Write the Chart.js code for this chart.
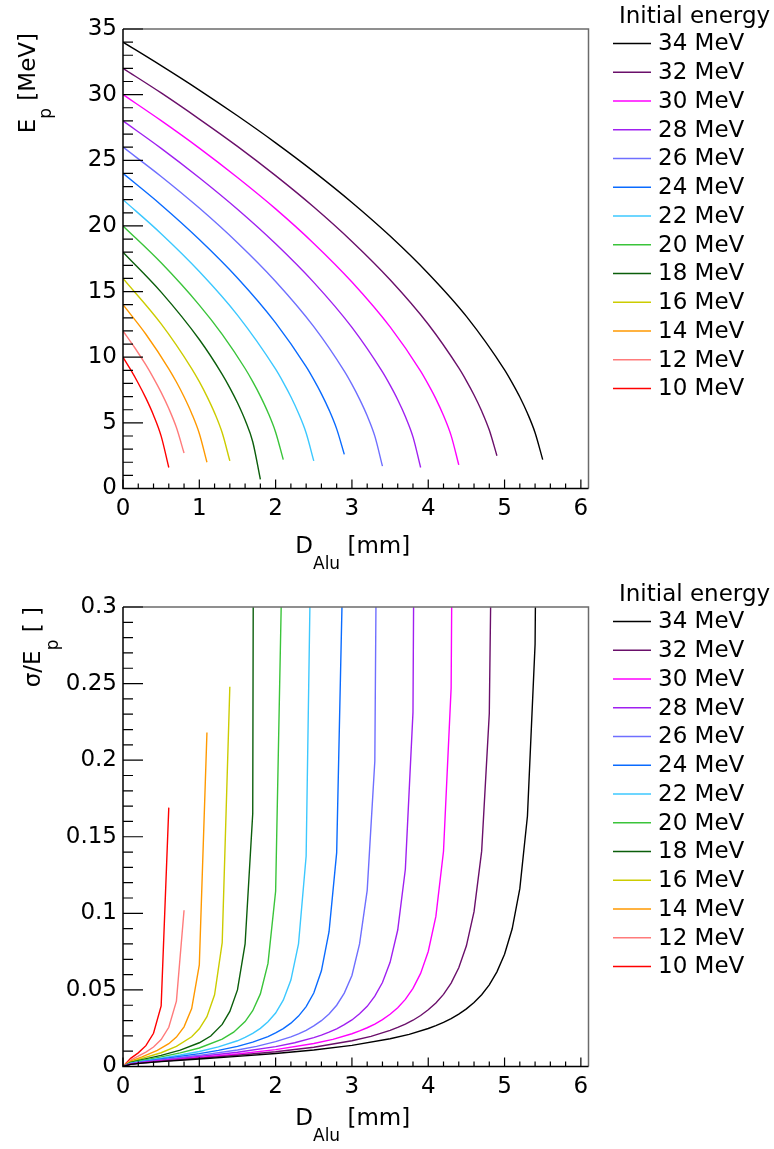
<!DOCTYPE html>
<html>
<head>
<meta charset="utf-8">
<script src="https://cdn.jsdelivr.net/npm/chart.js@4.4.0/dist/chart.umd.min.js"></script>
<style>
  html, body { margin: 0; padding: 0; background: #fff; overflow: hidden; }
  canvas { display: block; }
</style>
</head>
<body>
<canvas id="chartEnergia" width="774" height="578"></canvas>
<canvas id="chartSigma" width="774" height="578"></canvas>
<script>
// Etiquetas de la leyenda (energía inicial) y colores de cada curva
const energias = ['34 MeV', '32 MeV', '30 MeV', '28 MeV', '26 MeV', '24 MeV', '22 MeV', '20 MeV', '18 MeV', '16 MeV', '14 MeV', '12 MeV', '10 MeV'];
const colores = ['#000000', '#6a0f6a', '#ff00ff', '#a020f0', '#6f6fff', '#0a6bff', '#3cc8ff', '#3ac43a', '#0b5e0b', '#cccc00', '#ff9900', '#ff7b7b', '#ff0000'];

// Marcas de los ejes
const ticksDist = [0, 1, 2, 3, 4, 5, 6];
const ticksEp = [0, 5, 10, 15, 20, 25, 30, 35];
const ticksSigma = [0, 0.05, 0.1, 0.15, 0.2, 0.25, 0.3];

// Gráfico superior: E_p [MeV] frente a D_Alu [mm]
const dE34 = [0, 0.5, 1, 1.5, 2, 2.5, 3, 3.5, 4, 4.5, 5.0, 5.1, 5.2, 5.3, 5.4, 5.5];
const ep34 = [34, 32.21, 30.35, 28.39, 26.33, 24.14, 21.79, 19.23, 16.38, 13.11, 9.04, 8.05, 6.97, 5.73, 4.25, 2.2];
const dE32 = [0, 0.5, 1, 1.5, 2, 2.5, 3, 3.5, 4, 4.4, 4.5, 4.6, 4.7, 4.8, 4.9];
const ep32 = [32, 30.13, 28.14, 26.06, 23.83, 21.44, 18.82, 15.9, 12.51, 9.18, 8.2, 7.12, 5.9, 4.45, 2.5];
const dE30 = [0, 0.5, 1, 1.5, 2, 2.5, 3, 3.5, 3.9, 4.0, 4.1, 4.2, 4.3, 4.4];
const ep30 = [30, 28.02, 25.93, 23.69, 21.3, 18.67, 15.73, 12.31, 8.94, 7.93, 6.83, 5.56, 4.03, 1.8];
const dE28 = [0, 0.5, 1, 1.5, 2, 2.5, 3, 3.4, 3.5, 3.6, 3.7, 3.8, 3.9];
const ep28 = [28, 25.91, 23.67, 21.27, 18.64, 15.7, 12.27, 8.88, 7.87, 6.76, 5.48, 3.93, 1.6];
const dE26 = [0, 0.5, 1, 1.5, 2, 2.5, 2.9, 3.0, 3.1, 3.2, 3.3, 3.4];
const ep26 = [26, 23.77, 21.36, 18.72, 15.77, 12.33, 8.94, 7.93, 6.81, 5.54, 3.99, 1.7];
const dE24 = [0, 0.5, 1, 1.5, 2, 2.4, 2.5, 2.6, 2.7, 2.8, 2.9];
const ep24 = [24, 21.6, 18.97, 16.04, 12.62, 9.28, 8.29, 7.21, 5.99, 4.54, 2.6];
const dE22 = [0, 0.5, 1, 1.5, 2, 2.1, 2.2, 2.3, 2.4, 2.5];
const ep22 = [22, 19.41, 16.53, 13.21, 9.09, 8.09, 6.99, 5.73, 4.23, 2.1];
const dE20 = [0, 0.5, 1, 1.3, 1.6, 1.7, 1.8, 1.9, 2.0, 2.1];
const ep20 = [20, 17.19, 13.97, 11.74, 9.14, 8.14, 7.04, 5.79, 4.29, 2.2];
const dE18 = [0, 0.5, 1, 1.3, 1.4, 1.5, 1.6, 1.7, 1.8];
const ep18 = [18, 14.96, 11.35, 8.7, 7.67, 6.53, 5.21, 3.56, 0.7];
const dE16 = [0, 0.5, 0.9, 1.0, 1.1, 1.2, 1.3, 1.4];
const ep16 = [16, 12.54, 9.14, 8.14, 7.02, 5.76, 4.24, 2.1];
const dE14 = [0, 0.3, 0.6, 0.7, 0.8, 0.9, 1.0, 1.1];
const ep14 = [14, 11.75, 9.12, 8.11, 6.99, 5.72, 4.19, 2.0];
const dE12 = [0, 0.15, 0.3, 0.4, 0.5, 0.6, 0.7, 0.8];
const ep12 = [12, 10.76, 9.41, 8.41, 7.32, 6.09, 4.64, 2.7];
const dE10 = [0, 0.1, 0.2, 0.3, 0.4, 0.5, 0.6];
const ep10 = [10, 9.05, 8.02, 6.88, 5.58, 3.99, 1.6];

// Gráfico inferior: sigma/E_p frente a D_Alu [mm]
const dS34 = [0, 0.1, 0.25, 0.5, 1, 1.5, 2, 2.5, 3, 3.5, 3.75, 4, 4.1, 4.2, 4.3, 4.4, 4.5, 4.6, 4.7, 4.8, 4.9, 5.0, 5.1, 5.2, 5.3, 5.4, 5.5];
const sg34 = [0, 0.0014, 0.0022, 0.0032, 0.0049, 0.0066, 0.0085, 0.0108, 0.0138, 0.0181, 0.021, 0.0248, 0.0267, 0.0288, 0.0313, 0.0342, 0.0376, 0.0418, 0.0469, 0.0533, 0.0618, 0.0733, 0.0899, 0.1161, 0.1635, 0.2757, 0.875];
const dS32 = [0, 0.1, 0.25, 0.5, 1, 1.5, 2, 2.5, 3, 3.25, 3.5, 3.6, 3.7, 3.8, 3.9, 4, 4.1, 4.2, 4.3, 4.4, 4.5, 4.6, 4.7, 4.8, 4.9];
const sg32 = [0, 0.0014, 0.0023, 0.0034, 0.0054, 0.0073, 0.0096, 0.0126, 0.0168, 0.0197, 0.0236, 0.0255, 0.0277, 0.0302, 0.0333, 0.037, 0.0415, 0.0471, 0.0545, 0.0645, 0.0788, 0.1011, 0.1406, 0.2305, 0.634];
const dS30 = [0, 0.1, 0.25, 0.5, 1, 1.5, 2, 2.5, 2.75, 3, 3.1, 3.2, 3.3, 3.4, 3.5, 3.6, 3.7, 3.8, 3.9, 4.0, 4.1, 4.2, 4.3, 4.4];
const sg30 = [0, 0.0015, 0.0025, 0.0037, 0.0059, 0.0082, 0.011, 0.015, 0.0177, 0.0214, 0.0232, 0.0253, 0.0277, 0.0306, 0.0341, 0.0384, 0.0438, 0.051, 0.0608, 0.0751, 0.098, 0.1405, 0.2472, 1.014];
const dS28 = [0, 0.1, 0.25, 0.5, 1, 1.5, 2, 2.25, 2.5, 2.6, 2.7, 2.8, 2.9, 3, 3.1, 3.2, 3.3, 3.4, 3.5, 3.6, 3.7, 3.8, 3.9];
const sg28 = [0, 0.0017, 0.0027, 0.004, 0.0065, 0.0093, 0.013, 0.0155, 0.0189, 0.0205, 0.0224, 0.0246, 0.0273, 0.0304, 0.0344, 0.0393, 0.0459, 0.0548, 0.068, 0.0891, 0.1288, 0.2312, 1.114];
const dS26 = [0, 0.1, 0.25, 0.5, 1, 1.5, 1.75, 2, 2.2, 2.3, 2.4, 2.5, 2.6, 2.7, 2.8, 2.9, 3.0, 3.1, 3.2, 3.3, 3.4];
const sg26 = [0, 0.0018, 0.0029, 0.0044, 0.0073, 0.0108, 0.0131, 0.0162, 0.0193, 0.0213, 0.0236, 0.0265, 0.0299, 0.0343, 0.04, 0.0479, 0.0594, 0.08, 0.115, 0.1994, 0.888];
const dS24 = [0, 0.1, 0.25, 0.5, 1, 1.25, 1.5, 1.7, 1.9, 2, 2.1, 2.2, 2.3, 2.4, 2.5, 2.6, 2.7, 2.8, 2.9];
const sg24 = [0, 0.0019, 0.0032, 0.0049, 0.0084, 0.0105, 0.0131, 0.0159, 0.0195, 0.0219, 0.0247, 0.0283, 0.0329, 0.0391, 0.048, 0.0625, 0.088, 0.1396, 0.371];
const dS22 = [0, 0.1, 0.25, 0.5, 0.75, 1, 1.25, 1.5, 1.6, 1.7, 1.8, 1.9, 2, 2.1, 2.2, 2.3, 2.4, 2.5];
const sg22 = [0, 0.0021, 0.0035, 0.0055, 0.0075, 0.0098, 0.0128, 0.0168, 0.019, 0.0216, 0.0249, 0.0292, 0.0349, 0.0433, 0.0564, 0.0801, 0.1374, 0.468];
const dS20 = [0, 0.1, 0.25, 0.5, 0.75, 1, 1.3, 1.45, 1.6, 1.7, 1.8, 1.9, 2.0, 2.1];
const sg20 = [0, 0.0023, 0.0039, 0.0063, 0.0089, 0.0121, 0.0179, 0.0224, 0.0293, 0.0364, 0.0474, 0.0673, 0.1144, 0.369];
const dS18 = [0, 0.1, 0.25, 0.5, 0.75, 1, 1.15, 1.3, 1.4, 1.5, 1.6, 1.7, 1.8];
const sg18 = [0, 0.0026, 0.0045, 0.0073, 0.0107, 0.0155, 0.0199, 0.0275, 0.036, 0.05, 0.08, 0.165, 2.3];
const dS16 = [0, 0.1, 0.25, 0.5, 0.7, 0.9, 1.0, 1.1, 1.2, 1.3, 1.4];
const sg16 = [0, 0.003, 0.0053, 0.009, 0.0131, 0.0194, 0.0246, 0.0325, 0.0468, 0.0809, 0.248];
const dS14 = [0, 0.1, 0.25, 0.45, 0.6, 0.7, 0.8, 0.9, 1.0, 1.1];
const sg14 = [0, 0.0035, 0.0063, 0.0105, 0.0149, 0.0192, 0.0259, 0.0378, 0.0663, 0.218];
const dS12 = [0, 0.1, 0.2, 0.3, 0.4, 0.5, 0.6, 0.7, 0.8];
const sg12 = [0, 0.0042, 0.0067, 0.0094, 0.0127, 0.0176, 0.0256, 0.0427, 0.102];
const dS10 = [0, 0.1, 0.2, 0.3, 0.4, 0.5, 0.6];
const sg10 = [0, 0.0053, 0.0089, 0.0136, 0.0217, 0.0395, 0.169];

// Mismo orden que las etiquetas
const seriesEp = [[dE34, ep34], [dE32, ep32], [dE30, ep30], [dE28, ep28], [dE26, ep26], [dE24, ep24], [dE22, ep22], [dE20, ep20], [dE18, ep18], [dE16, ep16], [dE14, ep14], [dE12, ep12], [dE10, ep10]];
const seriesSigma = [[dS34, sg34], [dS32, sg32], [dS30, sg30], [dS28, sg28], [dS26, sg26], [dS24, sg24], [dS22, sg22], [dS20, sg20], [dS18, sg18], [dS16, sg16], [dS14, sg14], [dS12, sg12], [dS10, sg10]];

const FUENTE = 'DejaVu Sans';
Chart.defaults.font.family = FUENTE;
Chart.defaults.color = '#000';

function puntos(xs, ys) {
  return xs.map((x, i) => ({ x: x, y: ys[i] }));
}

function crearDatasets(series, suave) {
  return energias.map((label, i) => ({
    label: label,
    data: puntos(series[i][0], series[i][1]),
    borderColor: colores[i],
    borderWidth: 1.4,
    pointRadius: 0,
    fill: false,
    tension: 0,
    cubicInterpolationMode: suave ? 'monotone' : 'default'
  }));
}

// Dibuja un texto con partes en subíndice (texto, tamaño, desplazamiento)
function textoRico(ctx, partes, rotar) {
  let ancho = 0;
  partes.forEach(p => {
    ctx.font = p[1] + 'px "' + FUENTE + '"';
    ancho += ctx.measureText(p[0]).width;
  });
  return {
    ancho: ancho,
    pintar: function (x0, y0) {
      ctx.save();
      ctx.translate(x0, y0);
      if (rotar) ctx.rotate(-Math.PI / 2);
      ctx.textBaseline = 'alphabetic';
      ctx.textAlign = 'left';
      let pos = 0;
      partes.forEach(p => {
        ctx.font = p[1] + 'px "' + FUENTE + '"';
        ctx.fillText(p[0], pos, p[2]);
        pos += ctx.measureText(p[0]).width;
      });
      ctx.restore();
    }
  };
}

function menores(scale) {
  const mayores = scale.ticks.map(t => t.value);
  const res = [];
  for (let i = 0; i < mayores.length - 1; i++) {
    const paso = (mayores[i + 1] - mayores[i]) / 5;
    for (let k = 1; k < 5; k++) res.push(mayores[i] + k * paso);
  }
  return res;
}

const decoracion = {
  id: 'decoracion',
  afterDraw(chart, args, o) {
    const ctx = chart.ctx;
    const a = chart.chartArea;
    const sx = chart.scales.x, sy = chart.scales.y;
    ctx.save();
    // marco (arriba y derecha en gris)
    ctx.lineWidth = 1.5;
    ctx.strokeStyle = '#6b6b6b';
    ctx.beginPath();
    ctx.moveTo(a.left, a.top);
    ctx.lineTo(a.right, a.top);
    ctx.lineTo(a.right, a.bottom);
    ctx.stroke();
    ctx.strokeStyle = '#000';
    ctx.beginPath();
    ctx.moveTo(a.left, a.top);
    ctx.lineTo(a.left, a.bottom);
    ctx.lineTo(a.right, a.bottom);
    ctx.stroke();

    // marcas hacia dentro
    ctx.lineWidth = 1.2;
    ctx.beginPath();
    sy.ticks.forEach(t => { const py = sy.getPixelForValue(t.value); ctx.moveTo(a.left, py); ctx.lineTo(a.left + 20, py); });
    menores(sy).forEach(v => { const py = sy.getPixelForValue(v); ctx.moveTo(a.left, py); ctx.lineTo(a.left + 10, py); });
    sx.ticks.forEach(t => { const px = sx.getPixelForValue(t.value); ctx.moveTo(px, a.bottom); ctx.lineTo(px, a.bottom - 9); });
    menores(sx).forEach(v => { const px = sx.getPixelForValue(v); ctx.moveTo(px, a.bottom); ctx.lineTo(px, a.bottom - 5); });
    ctx.stroke();

    ctx.fillStyle = '#000';
    // título eje Y (alineado arriba)
    const ty = textoRico(ctx, o.tituloY, true);
    ty.pintar(o.tituloYx, o.tituloYfin + ty.ancho);
    // título eje X (centrado)
    const tx = textoRico(ctx, o.tituloX, false);
    tx.pintar((a.left + a.right) / 2 - tx.ancho / 2 - 3, o.tituloXy);

    // leyenda
    ctx.font = '23px "' + FUENTE + '"';
    ctx.textAlign = 'left';
    ctx.textBaseline = 'alphabetic';
    ctx.fillText('Initial energy', 619, o.leyendaY);
    ctx.textBaseline = 'middle';
    chart.data.datasets.forEach((ds, i) => {
      const y = o.leyendaY + 20.5 + i * 28.75;
      ctx.strokeStyle = ds.borderColor;
      ctx.lineWidth = 1.5;
      ctx.beginPath();
      ctx.moveTo(613, y);
      ctx.lineTo(651, y);
      ctx.stroke();
      ctx.fillText(ds.label, 658, y + 1);
    });
    ctx.restore();
  }
};

function configurar(series, suave, ticksY, maxY, deco) {
  return {
    type: 'line',
    data: { datasets: crearDatasets(series, suave) },
    options: {
      responsive: false,
      animation: false,
      layout: { padding: { top: 29, right: 185.5, bottom: 0, left: 0 } },
      plugins: {
        legend: { display: false },
        tooltip: { enabled: false },
        decoracion: deco
      },
      scales: {
        x: {
          type: 'linear',
          min: 0,
          max: 6.1,
          grid: { display: false, drawTicks: false },
          border: { display: false },
          afterBuildTicks: s => { s.ticks = ticksDist.map(v => ({ value: v })); },
          afterFit: s => { s.height = 89.5; },
          ticks: { font: { size: 23 }, padding: 7, maxRotation: 0, autoSkip: false, callback: v => String(v) }
        },
        y: {
          type: 'linear',
          min: 0,
          max: maxY,
          grid: { display: false, drawTicks: false },
          border: { display: false },
          afterBuildTicks: s => { s.ticks = ticksY.map(v => ({ value: v })); },
          afterFit: s => { s.width = 123; },
          ticks: { font: { size: 23 }, padding: 6, autoSkip: false, callback: v => String(v) }
        }
      }
    },
    plugins: [decoracion]
  };
}

document.addEventListener('DOMContentLoaded', function () {
  new Chart(document.getElementById('chartEnergia'), configurar(seriesEp, true, ticksEp, 35, {
    tituloY: [['E', 23, 0], ['p', 17, 16], [' [MeV]', 23, 0]],
    tituloYx: 35,
    tituloYfin: 33,
    tituloX: [['D', 23, 0], ['Alu', 17, 16], [' [mm]', 23, 0]],
    tituloXy: 553,
    leyendaY: 23
  }));
  new Chart(document.getElementById('chartSigma'), configurar(seriesSigma, false, ticksSigma, 0.3, {
    tituloY: [['\u03c3/E', 23, 0], ['p', 17, 18], [' [ ]', 23, 0]],
    tituloYx: 40,
    tituloYfin: 29,
    tituloX: [['D', 23, 0], ['Alu', 17, 16], [' [mm]', 23, 0]],
    tituloXy: 547,
    leyendaY: 23
  }));
});
</script>
</body>
</html>
